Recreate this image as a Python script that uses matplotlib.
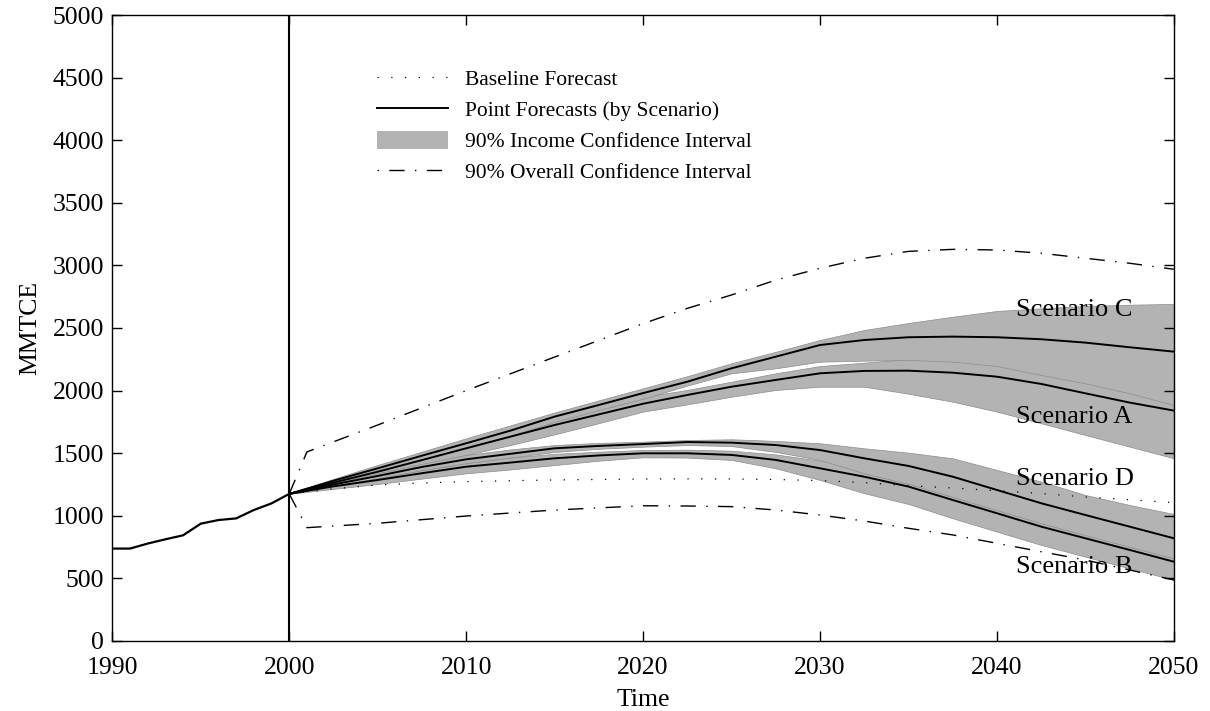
import matplotlib
matplotlib.use("Agg")
import matplotlib.pyplot as plt
from matplotlib.lines import Line2D
from matplotlib.patches import Patch

plt.rcParams['font.family'] = ['Liberation Serif', 'DejaVu Serif']

# ---------------- data ----------------
hist_years = [1990, 1991, 1992, 1993, 1994, 1995, 1996, 1997, 1998, 1999, 2000]
hist_vals = [738, 738, 778, 812, 844, 937, 966, 979, 1046, 1099, 1175]

fyears = [2000, 2002.5, 2005, 2007.5, 2010, 2012.5, 2015, 2017.5, 2020, 2022.5,
          2025, 2027.5, 2030, 2032.5, 2035, 2037.5, 2040, 2042.5, 2045, 2047.5, 2050]

baseline = [1175, 1215, 1246, 1262, 1273, 1280, 1286, 1290, 1294, 1295,
            1294, 1290, 1281, 1265, 1240, 1222, 1200, 1178, 1150, 1128, 1105]

scen_C = [1175, 1280, 1379, 1480, 1579, 1680, 1792, 1885, 1980, 2071,
          2178, 2271, 2364, 2404, 2426, 2431, 2426, 2410, 2383, 2346, 2311]
scen_C_lo = [1175, 1265, 1355, 1450, 1545, 1640, 1750, 1845, 1935, 2040,
             2138, 2178, 2231, 2239, 2245, 2231, 2196, 2125, 2058, 1978, 1885]
scen_C_hi = [1175, 1295, 1406, 1512, 1619, 1722, 1825, 1922, 2018, 2115,
             2218, 2310, 2404, 2484, 2540, 2590, 2636, 2657, 2676, 2686, 2692]

scen_A = [1175, 1265, 1352, 1445, 1539, 1632, 1725, 1810, 1895, 1965,
          2031, 2085, 2138, 2157, 2159, 2143, 2111, 2053, 1978, 1904, 1840]
scen_A_lo = [1175, 1250, 1326, 1405, 1486, 1565, 1650, 1740, 1832, 1890,
             1951, 2005, 2031, 2031, 1975, 1911, 1832, 1739, 1645, 1552, 1459]
scen_A_hi = [1175, 1275, 1370, 1470, 1570, 1665, 1760, 1855, 1950, 2005,
             2071, 2138, 2196, 2223, 2252, 2290, 2320, 2320, 2300, 2260, 2220]

scen_D = [1175, 1250, 1318, 1390, 1451, 1495, 1539, 1558, 1573, 1589,
          1584, 1565, 1525, 1459, 1398, 1312, 1206, 1100, 1006, 913, 820]
scen_D_lo = [1175, 1240, 1300, 1365, 1420, 1465, 1510, 1535, 1552, 1565,
             1557, 1510, 1446, 1339, 1255, 1150, 1045, 940, 845, 752, 660]
scen_D_hi = [1175, 1262, 1339, 1415, 1486, 1530, 1565, 1582, 1592, 1605,
             1611, 1598, 1579, 1539, 1504, 1459, 1366, 1273, 1166, 1086, 1014]

scen_B = [1175, 1235, 1286, 1340, 1392, 1425, 1459, 1482, 1499, 1499,
          1486, 1446, 1379, 1312, 1233, 1126, 1020, 913, 820, 727, 633]
scen_B_lo = [1175, 1215, 1254, 1297, 1339, 1370, 1405, 1440, 1467, 1465,
             1446, 1379, 1286, 1180, 1094, 980, 873, 767, 673, 580, 487]
scen_B_hi = [1175, 1245, 1305, 1365, 1422, 1465, 1495, 1512, 1525, 1528,
             1520, 1490, 1440, 1400, 1372, 1272, 1167, 1059, 967, 874, 779]

ci_years = [2000, 2001, 2005, 2010, 2015, 2020, 2022.5, 2025, 2027.5, 2030,
            2032.5, 2035, 2037.5, 2040, 2042.5, 2045, 2047.5, 2050]
ci_upper = [1175, 1510, 1725, 2000, 2268, 2535, 2657, 2764, 2883, 2977,
            3057, 3112, 3128, 3123, 3097, 3057, 3017, 2969]
ci_lower = [1175, 905, 940, 998, 1046, 1080, 1078, 1073, 1046, 1006,
            958, 900, 847, 780, 713, 647, 567, 487]

labels = ["Scenario C", "Scenario A", "Scenario D", "Scenario B"]
label_y = [2644, 1792, 1291, 589]
label_x = 2041.1

legend_labels = ["Baseline Forecast", "Point Forecasts (by Scenario)",
                 "90% Income Confidence Interval", "90% Overall Confidence Interval"]

xticks = [1990, 2000, 2010, 2020, 2030, 2040, 2050]
yticks = [0, 500, 1000, 1500, 2000, 2500, 3000, 3500, 4000, 4500, 5000]

# ---------------- plot ----------------
fig = plt.figure(figsize=(12.1, 7.11), dpi=100)
ax = fig.add_axes([0.0928, 0.0985, 0.8774, 0.8804])

gray = '0.70'
edge = '0.55'
dotted = (0, (1, 10))
dashdot = (0, (11, 7.5, 1, 7.5))

# bands (A then C, B then D so edges show as in the original)
ax.fill_between(fyears, scen_A_lo, scen_A_hi, facecolor=gray, edgecolor=edge, lw=0.5, zorder=1)
ax.fill_between(fyears, scen_C_lo, scen_C_hi, facecolor=gray, edgecolor=edge, lw=0.5, zorder=1)
ax.fill_between(fyears, scen_B_lo, scen_B_hi, facecolor=gray, edgecolor=edge, lw=0.5, zorder=1)
ax.fill_between(fyears, scen_D_lo, scen_D_hi, facecolor=gray, edgecolor=edge, lw=0.5, zorder=1)

ax.plot(hist_years, hist_vals, color='k', lw=1.6, zorder=3)
for s in (scen_C, scen_A, scen_D, scen_B):
    ax.plot(fyears, s, color='k', lw=1.4, zorder=3)
ax.plot(fyears, baseline, color='k', lw=0.9, linestyle=dotted, zorder=3)
ax.plot(ci_years, ci_upper, color='k', lw=1.0, linestyle=dashdot, zorder=3)
ax.plot(ci_years, ci_lower, color='k', lw=1.0, linestyle=dashdot, zorder=3)

ax.axvline(2000, color='k', lw=1.5, zorder=4)

for t, yv in zip(labels, label_y):
    ax.text(label_x, yv, t, fontsize=19, va='center', ha='left', zorder=5)

ax.set_xlim(1990, 2050)
ax.set_ylim(0, 5000)
ax.set_xticks(xticks)
ax.set_yticks(yticks)
ax.tick_params(direction='in', length=7, width=1, top=True, right=True,
               labelsize=18.5)
ax.tick_params(axis='y', pad=6)
ax.tick_params(axis='x', pad=11.5)
for sp in ax.spines.values():
    sp.set_linewidth(1.0)

ax.set_xlabel("Time", fontsize=18.5, labelpad=7.5)
ax.set_ylabel("MMTCE", fontsize=18.5, labelpad=8)

handles = [
    Line2D([], [], color='k', lw=0.9, linestyle=dotted),
    Line2D([], [], color='k', lw=1.4),
    Patch(facecolor=gray, edgecolor='none'),
    Line2D([], [], color='k', lw=1.0, linestyle=(0, (1, 7.5, 11, 7.5))),
]
leg = ax.legend(handles, legend_labels, loc='upper left',
                bbox_to_anchor=(0.2388, 0.931), frameon=False, fontsize=15.5,
                handlelength=3.3, handletextpad=0.8, labelspacing=0.45,
                handleheight=0.9, borderpad=0)

fig.savefig("out.png", dpi=100)
